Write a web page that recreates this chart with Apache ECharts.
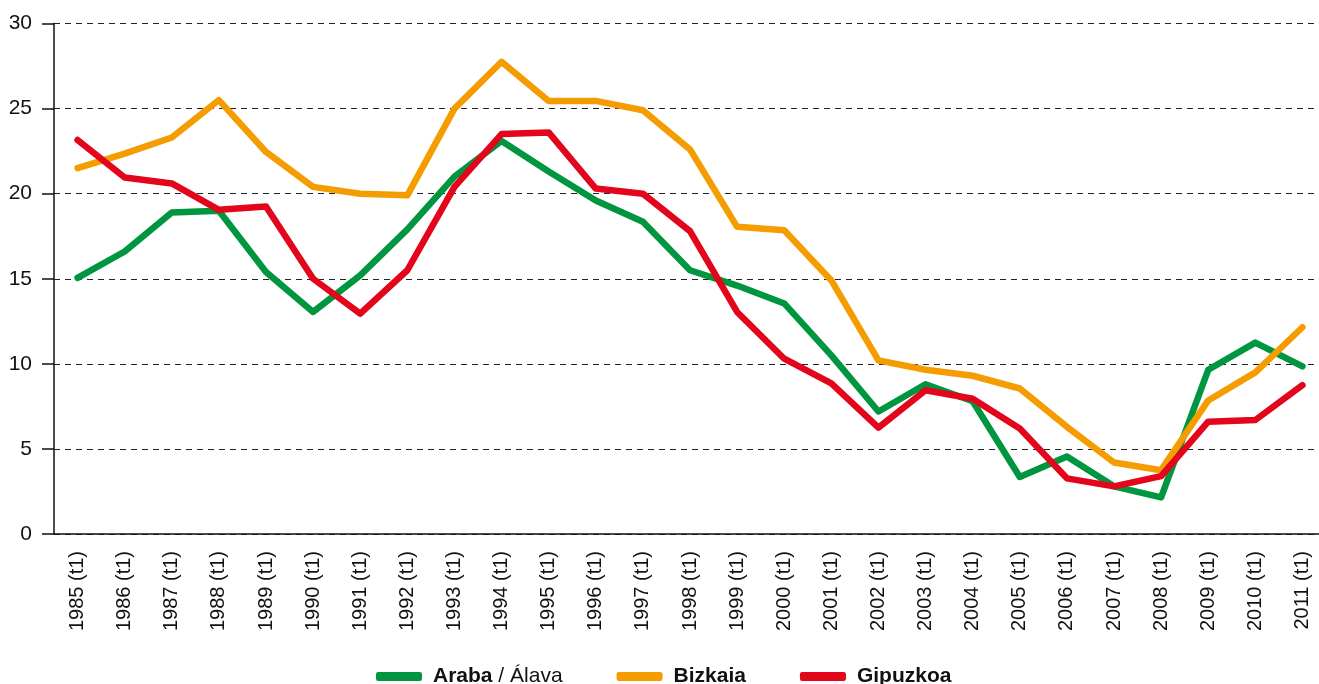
<!DOCTYPE html>
<html>
<head>
<meta charset="utf-8">
<script src="https://cdn.jsdelivr.net/npm/echarts@6/dist/echarts.min.js"></script>
<style>
  html, body { margin: 0; padding: 0; background: #fff; }
  #container { width: 1319px; height: 684px; }
</style>
</head>
<body>
<div id="container"></div>
<script>
var years = [];
for (var y = 1985; y <= 2011; y++) { years.push(y + ' (t1)'); }

var araba = [15.05, 16.6, 18.9, 19.0, 15.4, 13.05, 15.2, 17.9, 21.0, 23.1, 21.3, 19.6, 18.35, 15.5,
    14.6, 13.55, 10.5, 7.2, 8.8, 7.8, 3.35, 4.55, 2.8, 2.15, 9.65, 11.25, 9.85];
var bizkaia = [21.5, 22.35, 23.3, 25.5, 22.45, 20.4, 20.0, 19.9, 25.0, 27.75, 25.45, 25.45, 24.9, 22.6,
    18.05, 17.85, 14.9, 10.2, 9.65, 9.3, 8.55, 6.3, 4.2, 3.75, 7.85, 9.5, 12.15];
var gipuzkoa = [23.15, 20.95, 20.6, 19.05, 19.25, 15.0, 12.95, 15.5, 20.4, 23.5, 23.6, 20.3, 20.0, 17.8,
    13.05, 10.3, 8.85, 6.25, 8.45, 7.95, 6.2, 3.27, 2.8, 3.4, 6.6, 6.7, 8.75];

var names = ['Araba / Álava', 'Bizkaia', 'Gipuzkoa'];
var colors = ['#009640', '#f59c00', '#e3051b'];
var font = '"Liberation Sans", Arial, sans-serif';

var myChart = echarts.init(document.getElementById('container'));

function line(name, data, color) {
    return {
        name: name,
        type: 'line',
        data: data,
        symbol: 'none',
        color: color,
        lineStyle: { width: 6.5, color: color, cap: 'round', join: 'round' }
    };
}

var option = {
    animation: false,
    color: colors,
    grid: { left: 54, top: 23.5, width: 1272, height: 510.5, outerBoundsMode: 'none', containLabel: false },
    legend: {
        data: names,
        left: 371,
        top: 661,
        itemWidth: 46,
        itemHeight: 9,
        itemGap: 54,
        icon: 'roundRect',
        textStyle: {
            fontFamily: font,
            fontSize: 21,
            color: '#111',
            padding: [0, 0, 0, 6],
            rich: { b: { fontFamily: font, fontSize: 21, fontWeight: 'bold', color: '#111' } }
        },
        formatter: function (name) {
            if (name === 'Araba / Álava') return '{b|Araba} / Álava';
            return '{b|' + name + '}';
        }
    },
    xAxis: {
        type: 'category',
        data: years,
        boundaryGap: true,
        axisLine: { lineStyle: { color: '#111', width: 1.5 } },
        axisTick: { length: 10, lineStyle: { color: '#111', width: 1.5 } },
        axisLabel: {
            rotate: 90,
            margin: 17,
            interval: 0,
            fontFamily: font,
            fontSize: 20,
            color: '#111'
        }
    },
    yAxis: {
        type: 'value',
        min: 0,
        max: 30,
        interval: 5,
        axisLine: { show: true, lineStyle: { color: '#111', width: 1.5 } },
        axisTick: { show: true, length: 12, lineStyle: { color: '#111', width: 1.5 } },
        axisLabel: { margin: 22, fontFamily: font, fontSize: 21, color: '#111' },
        splitLine: { lineStyle: { color: '#222', width: 1, type: [6, 5] } }
    },
    series: [
        line(names[0], araba, colors[0]),
        line(names[1], bizkaia, colors[1]),
        line(names[2], gipuzkoa, colors[2])
    ]
};
myChart.setOption(option);
</script>
</body>
</html>
